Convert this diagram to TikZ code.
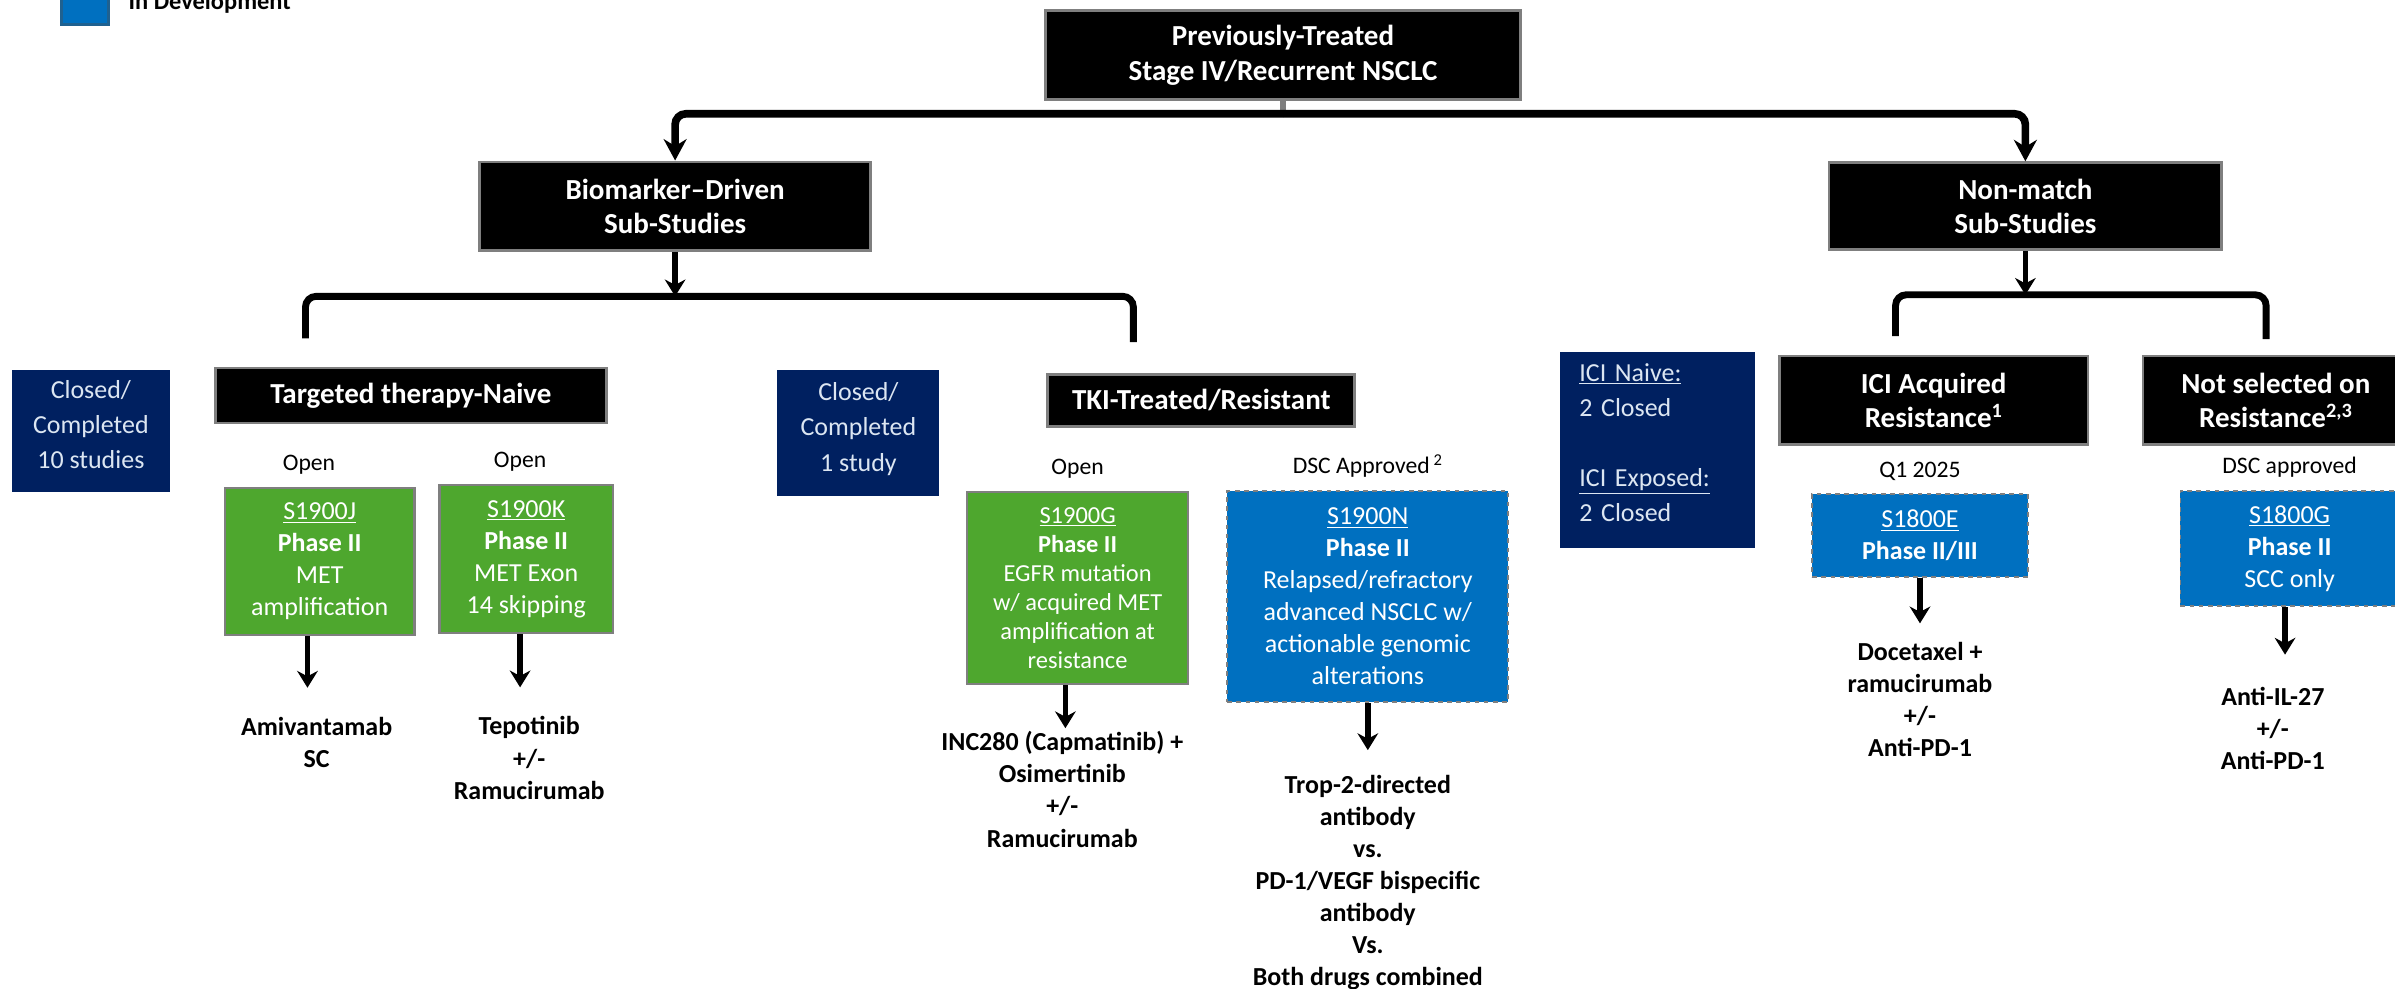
\documentclass[tikz,border=0pt]{standalone}
\usepackage{fontspec}
\setmainfont{Carlito}
\usepackage{xcolor}
\usepackage{tikz}
\usetikzlibrary{positioning, arrows.meta}
\definecolor{navy}{HTML}{002060}
\definecolor{opengreen}{HTML}{4EA72E}
\definecolor{devblue}{HTML}{0070C0}
\definecolor{edgegray}{HTML}{7F7F7F}
\definecolor{paleblue}{HTML}{DCE6F2}
\definecolor{legendedge}{HTML}{1F6190}
\tikzset{
    header/.style={rectangle, draw=edgegray, line width=1.8pt, fill=black, text=white, align=center, inner sep=0pt, font=\fontsize{19}{22}\selectfont\bfseries},
    closedbox/.style={rectangle, fill=navy, text=paleblue, align=center, inner sep=0pt, font=\fontsize{17}{23}\selectfont},
    openstudy/.style={rectangle, draw=edgegray, line width=1.5pt, fill=opengreen, text=white, align=center, inner sep=0pt, font=\fontsize{17}{21}\selectfont},
    devstudy/.style={rectangle, draw=edgegray, dashed, line width=1.2pt, fill=devblue, text=white, align=center, inner sep=0pt, font=\fontsize{17}{21}\selectfont},
    status/.style={inner sep=0pt, font=\fontsize{15.5}{18}\selectfont},
    drug/.style={align=center, inner sep=0pt, font=\fontsize{17}{21}\selectfont\bfseries},
    trunk/.style={line width=5pt, rounded corners=7pt, -{Stealth[length=14pt, width=15pt]}},
    branch/.style={line width=4.5pt, rounded corners=7pt},
    arrow/.style={line width=3.5pt, -{Stealth[length=11pt, width=13.5pt]}}
}

\begin{document}
\begin{tikzpicture}[x=1pt, y=-1pt]
    \useasboundingbox (0,0) rectangle (1568,647);

    % Legend
    \node[rectangle, draw=legendedge, line width=2pt, fill=devblue, minimum size=31pt, inner sep=0pt] (legbox) at (55.5,0.3) {};
    \node[anchor=base west, inner sep=0pt, font=\fontsize{16}{19}\selectfont\bfseries] (legtext) at (84,6) {In Development};

    % Top levels
    \node[header, font=\fontsize{19}{23}\selectfont\bfseries, minimum width=311pt, minimum height=58pt] (top) at (840,36) {Previously-Treated\\Stage IV/Recurrent NSCLC};
    \node[header, minimum width=256pt, minimum height=58pt] (bio) at (442,135) {Biomarker--Driven\\Sub-Studies};
    \node[header, minimum width=257pt, minimum height=57pt] (nonmatch) at (1326,135) {Non-match\\Sub-Studies};

    \coordinate (split) at (840,74.5);
    \draw[edgegray, line width=3.5pt] (top.south) -- (split);
    \draw[trunk] (split) -| (bio.north);
    \draw[trunk] (split) -| (nonmatch.north);

    \coordinate (bioSplit) at (442,194);
    \coordinate (naiveEnd) at (200,221.5);
    \coordinate (tkiEnd) at (742,224);
    \draw[arrow] (bio.south) -- (bioSplit);
    \draw[branch] (naiveEnd) |- (bioSplit) -| (tkiEnd);

    \coordinate (nmSplit) at (1328,193);
    \coordinate (acqEnd) at (1241,220);
    \coordinate (nselEnd) at (1483.6,222);
    \draw[arrow] (nonmatch.south) -- (nonmatch.south |- nmSplit);
    \draw[branch] (acqEnd) |- (nmSplit) -| (nselEnd);

    % Targeted therapy-naive
    \node[closedbox, minimum width=103pt, minimum height=80pt] (closedA) at (59.5,282) {Closed/\\Completed\\10 studies\\[-15pt]\mbox{}};
    \node[header, minimum width=256pt, minimum height=36pt] (naive) at (269,259) {Targeted therapy-Naive};
    \node[openstudy, minimum width=124pt, minimum height=96pt] (j) at (209.3,367.5) {\underline{S1900J}\\\textbf{Phase II}\\MET\\amplification};
    \node[openstudy, minimum width=113.5pt, minimum height=96.5pt] (k) at (344.5,366) {\underline{S1900K}\\\textbf{Phase II}\\MET Exon\\14 skipping};
    \node[status, above=8pt of j, xshift=-7pt] (jstat) {Open};
    \node[status, above=8pt of k, xshift=-4pt] (kstat) {Open};
    \node[drug, below=53pt of j, xshift=-2pt] (jdrug) {Amivantamab\\SC};
    \node[drug, below=54pt of k, xshift=2pt] (kdrug) {Tepotinib\\+/-\\Ramucirumab};
    \draw[arrow, shorten >=19pt] ([xshift=-8pt]j.south) -- ([xshift=-8pt]j.south |- jdrug.north);
    \draw[arrow, shorten >=19pt] ([xshift=-4pt]k.south) -- ([xshift=-4pt]k.south |- kdrug.north);

    % TKI-treated
    \node[closedbox, minimum width=106pt, minimum height=83pt] (closedB) at (562,283.5) {Closed/\\Completed\\1 study\\[-15pt]\mbox{}};
    \node[header, minimum width=201pt, minimum height=34pt] (tki) at (786.5,262) {TKI-Treated/Resistant};
    \node[openstudy, font=\fontsize{16}{19}\selectfont, minimum width=145pt, minimum height=126pt] (g) at (705.5,385) {\underline{S1900G}\\\textbf{Phase II}\\EGFR mutation\\w/ acquired MET\\amplification at\\resistance};
    \node[devstudy, minimum width=184pt, minimum height=138pt] (n) at (895.5,390.5) {\underline{S1900N}\\\textbf{Phase II}\\Relapsed/refractory\\advanced NSCLC w/\\actionable genomic\\alterations};
    \node[status, above=8pt of g] (gstat) {Open};
    \node[status, above=8pt of n] (nstat) {DSC Approved\,\textsuperscript{2}};
    \node[drug, below=30pt of g, xshift=-10pt] (gdrug) {INC280 (Capmatinib) +\\Osimertinib\\+/-\\Ramucirumab};
    \node[drug, below=48pt of n, yshift=1pt] (ndrug) {Trop-2-directed\\antibody\\vs.\\PD-1/VEGF bispecific\\antibody\\Vs.\\Both drugs combined};
    \draw[arrow, shorten >=2pt] ([xshift=-8pt]g.south) -- ([xshift=-8pt]g.south |- gdrug.north);
    \draw[arrow, shorten >=16pt] (n.south) -- (n.south |- ndrug.north);

    % Non-match
    \node[closedbox, align=left, text width=102pt, minimum width=128pt, minimum height=128.5pt] (ici) at (1085,294.75) {\underline{ICI Naive:}\\2 Closed\\[23pt]\underline{ICI Exposed:}\\2 Closed\\[-13pt]\mbox{}};
    \node[header, minimum width=202pt, minimum height=58pt] (acq) at (1266,262) {ICI Acquired\\Resistance\textsuperscript{1}};
    \node[header, minimum width=174pt, minimum height=58pt] (nsel) at (1490,262) {Not selected on\\Resistance\textsuperscript{2,3}};
    \node[devstudy, minimum width=141pt, minimum height=54pt] (e) at (1257,350.5) {\underline{S1800E}\\\textbf{Phase II/III}};
    \node[devstudy, minimum width=143pt, minimum height=75.5pt] (sg) at (1499,359.25) {\underline{S1800G}\\\textbf{Phase II}\\SCC only};
    \node[status, above=8pt of e] (estat) {Q1 2025};
    \node[status, above=8pt of sg] (sgstat) {DSC approved};
    \node[drug, below=42pt of e] (edrug) {Docetaxel +\\ramucirumab\\+/-\\Anti-PD-1};
    \node[drug, below=52pt of sg, xshift=-11pt] (sgdrug) {Anti-IL-27\\+/-\\Anti-PD-1};
    \draw[arrow, shorten >=12pt] (e.south) -- (e.south |- edrug.north);
    \draw[arrow, shorten >=21pt] ([xshift=-3pt]sg.south) -- ([xshift=-3pt]sg.south |- sgdrug.north);
\end{tikzpicture}
\end{document}
